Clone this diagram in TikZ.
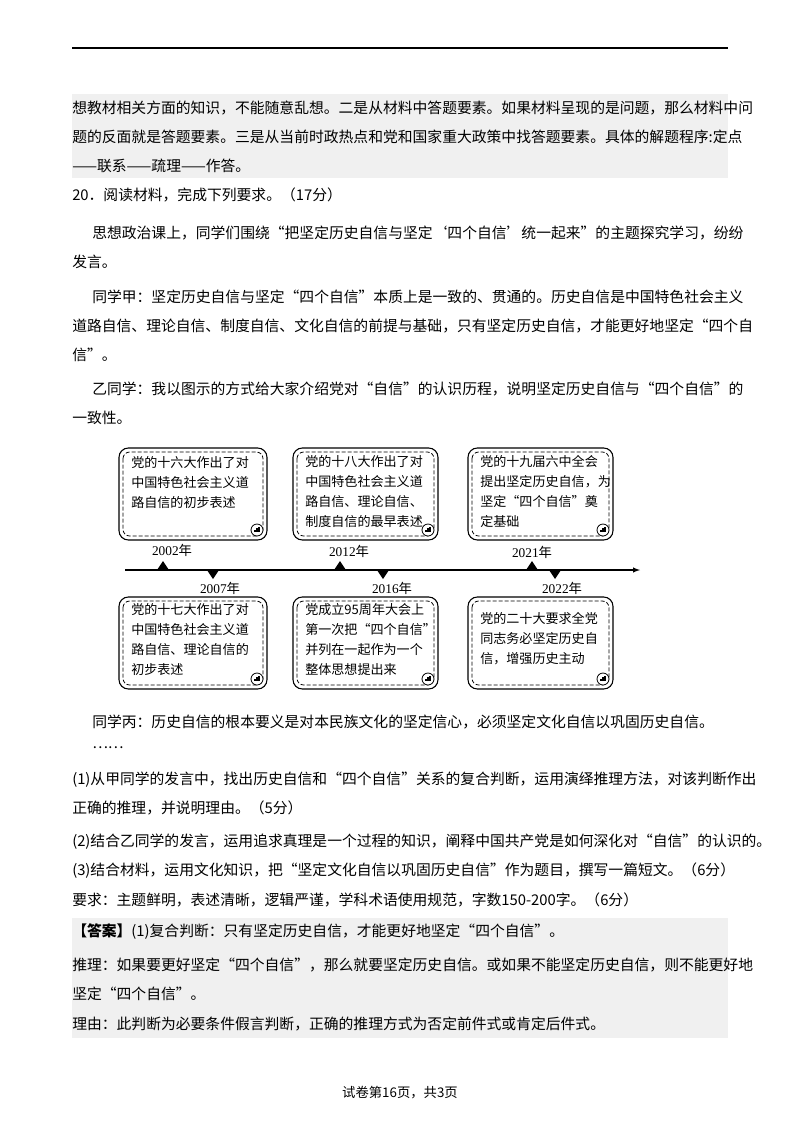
\documentclass[tikz,border=0pt]{standalone}
\usepackage{fontspec}
\setmainfont{Liberation Serif}
\newfontfamily\cjk{Noto Sans CJK SC}
\begin{document}
\begin{tikzpicture}[x=0.75pt,y=-0.75pt,
  tl/.style={anchor=west,inner sep=0pt,font=\cjk\fontsize{11.1}{13}\selectfont},
  bx/.style={anchor=north west,inner sep=0pt,align=left,font=\cjk\fontsize{9.8}{15}\selectfont},
  yr/.style={inner sep=0pt,font=\fontsize{10}{12}\selectfont},
  tri/.style={fill=black,draw=none}]
\useasboundingbox (0,0) rectangle (800,1132);
\fill[white] (0,0) rectangle (800,1132);
\draw[line width=1pt] (72,48) -- (728,48);
\fill[black!6] (72,94) rectangle (728,178);
\fill[black!6] (72,918) rectangle (728,1038);
\node[tl] (l1) at (72,108) {想教材相关方面的知识，不能随意乱想。二是从材料中答题要素。如果材料呈现的是问题，那么材料中问};
\node[tl] (l2) at (72,137) {题的反面就是答题要素。三是从当前时政热点和党和国家重大政策中找答题要素。具体的解题程序:定点};
\node[tl] (l3) at (72,166) {——联系——疏理——作答。};
\node[tl] (q20) at (72,195) {20．阅读材料，完成下列要求。（17分）};
\node[tl] (p1) at (92,233) {思想政治课上，同学们围绕“把坚定历史自信与坚定‘四个自信’统一起来”的主题探究学习，纷纷};
\node[tl] (p1b) at (72,262) {发言。};
\node[tl] (p2) at (92,297) {同学甲：坚定历史自信与坚定“四个自信”本质上是一致的、贯通的。历史自信是中国特色社会主义};
\node[tl] (p2b) at (72,326) {道路自信、理论自信、制度自信、文化自信的前提与基础，只有坚定历史自信，才能更好地坚定“四个自};
\node[tl] (p2c) at (72,355) {信”。};
\node[tl] (p3) at (92,389) {乙同学：我以图示的方式给大家介绍党对“自信”的认识历程，说明坚定历史自信与“四个自信”的};
\node[tl] (p3b) at (72,418) {一致性。};
% boxes
\foreach \n/\xa/\ya/\xb/\yb in {1/119/448/267/540,2/293/448/438/540,3/468/448/613/540,4/119/597/267/689,5/293/597/438/689,6/468/597/613/689}{
  \draw[line width=0.8pt,rounded corners=7pt] (\xa,\ya) rectangle (\xb,\yb);
  \draw[line width=0.6pt,dashed,dash pattern=on 3pt off 1.5pt,rounded corners=5pt] (\xa+4,\ya+4) rectangle (\xb-4,\yb-4);
  \fill[white] (\xb-10,\yb-10) circle (6);
  \draw[line width=0.6pt] (\xb-10,\yb-10) circle (6);
  \draw[line width=0.8pt] (\xb-12,\yb-8) -- (\xb-12,\yb-10) (\xb-10,\yb-8) -- (\xb-10,\yb-12) (\xb-8,\yb-8) -- (\xb-8,\yb-13);
}
\node[bx] (b1) at (131,456) {党的十六大作出了对\\中国特色社会主义道\\路自信的初步表述};
\node[bx] (b2) at (305,455) {党的十八大作出了对\\中国特色社会主义道\\路自信、理论自信、\\制度自信的最早表述};
\node[bx] (b3) at (480,455) {党的十九届六中全会\\提出坚定历史自信，为\\坚定“四个自信”奠\\定基础};
\node[bx] (b4) at (131,603) {党的十七大作出了对\\中国特色社会主义道\\路自信、理论自信的\\初步表述};
\node[bx] (b5) at (305,603) {党成立95周年大会上\\第一次把“四个自信”\\并列在一起作为一个\\整体思想提出来};
\node[bx] (b6) at (480,612) {党的二十大要求全党\\同志务必坚定历史自\\信，增强历史主动};
% axis
\coordinate (as) at (125,570);
\coordinate (ae) at (640,570);
\draw[line width=0.8pt,-latex] (as) -- (ae);
\foreach \x in {163,340,532}{\fill[tri] (\x-6,570) -- (\x+6,570) -- (\x,561) -- cycle;}
\foreach \x in {213,383,555}{\fill[tri] (\x-6,570) -- (\x+6,570) -- (\x,579) -- cycle;}
\node[yr] (y1) at (172,550) {2002{\cjk 年}};
\node[yr] (y2) at (349,551) {2012{\cjk 年}};
\node[yr] (y3) at (532,552) {2021{\cjk 年}};
\node[yr] (y4) at (220,588) {2007{\cjk 年}};
\node[yr] (y5) at (392,588) {2016{\cjk 年}};
\node[yr] (y6) at (562,588) {2022{\cjk 年}};
\node[tl] (c1) at (92,722) {同学丙：历史自信的根本要义是对本民族文化的坚定信心，必须坚定文化自信以巩固历史自信。};
\node[tl] (c2) at (92,748) {……};
\node[tl] (r1) at (72,780) {(1)从甲同学的发言中，找出历史自信和“四个自信”关系的复合判断，运用演绎推理方法，对该判断作出};
\node[tl] (r1b) at (72,808) {正确的推理，并说明理由。（5分）};
\node[tl] (r2) at (72,842) {(2)结合乙同学的发言，运用追求真理是一个过程的知识，阐释中国共产党是如何深化对“自信”的认识的。};
\node[tl] (r3) at (72,871) {(3)结合材料，运用文化知识，把“坚定文化自信以巩固历史自信”作为题目，撰写一篇短文。（6分）};
\node[tl] (r4) at (72,900) {要求：主题鲜明，表述清晰，逻辑严谨，学科术语使用规范，字数150-200字。（6分）};
\node[tl] (a1) at (72,932) {\textbf{【答案】}(1)复合判断：只有坚定历史自信，才能更好地坚定“四个自信”。};
\node[tl] (a2) at (72,965) {推理：如果要更好坚定“四个自信”，那么就要坚定历史自信。或如果不能坚定历史自信，则不能更好地};
\node[tl] (a3) at (72,994) {坚定“四个自信”。};
\node[tl] (a4) at (72,1024) {理由：此判断为必要条件假言判断，正确的推理方式为否定前件式或肯定后件式。};
\node[inner sep=0pt,font=\cjk\fontsize{10}{12}\selectfont] (ft) at (400,1093) {试卷第16页，共3页};
\end{tikzpicture}
\end{document}
